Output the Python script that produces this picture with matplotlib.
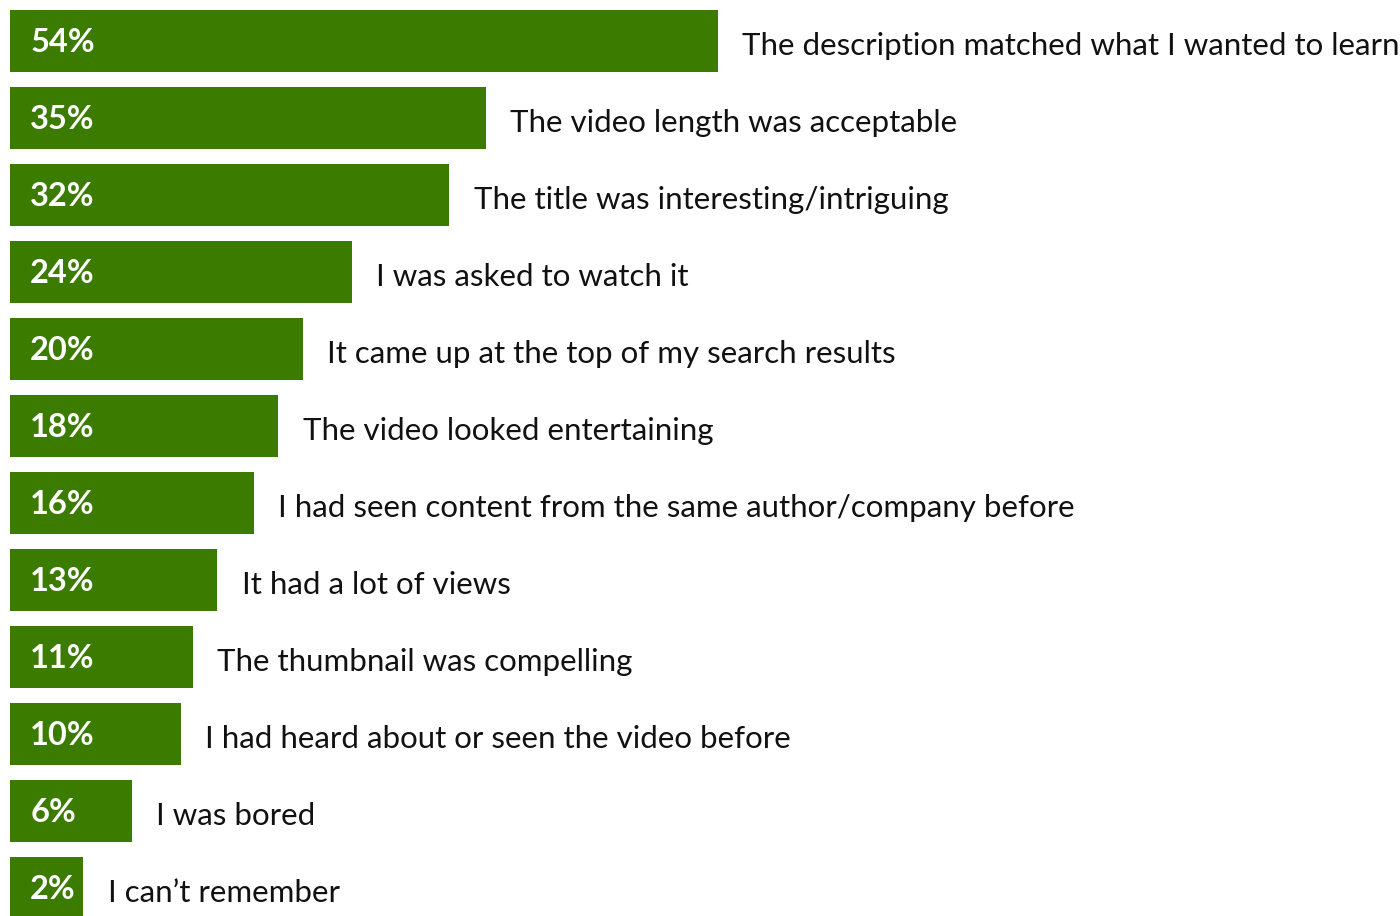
import numpy as np
import matplotlib.pyplot as plt

reasons = [
    'The description matched what I wanted to learn',
    'The video length was acceptable',
    'The title was interesting/intriguing',
    'I was asked to watch it',
    'It came up at the top of my search results',
    'The video looked entertaining',
    'I had seen content from the same author/company before',
    'It had a lot of views',
    'The thumbnail was compelling',
    'I had heard about or seen the video before',
    'I was bored',
    'I can\u2019t remember',
]
shares = [54, 35, 32, 24, 20, 18, 16, 13, 11, 10, 6, 2]

green = '#3b7b00'
base = 4.0  # bars start a little left of zero so small labels fit inside

fig = plt.figure(figsize=(14, 9.16), dpi=100)
ax = fig.add_axes([0, 0, 1, 1])

y = np.arange(len(shares))
vals = np.array(shares, dtype=float)
ax.barh(y, vals + base, left=-base, height=0.805, color=green)

for i, (v, lab) in enumerate(zip(shares, reasons)):
    ax.text(-base + 1.65, i + 0.02, f'{v}%', color='white', fontsize=23.5,
            fontfamily='Lato', fontweight='bold', va='center', ha='left')
    ax.text(v + 2.0, i + 0.06, lab, color='#111111', fontsize=22.5,
            fontfamily='Lato', va='center', ha='left')

# 1 unit = ~12.2 px, bars start at x=10 px
k = 12.2
x0 = -base - 10 / k
ax.set_xlim(x0, x0 + 1400 / k)
ax.set_ylim((916 - 41) / 77, -41 / 77)
ax.axis('off')

fig.savefig('out.png', dpi=100)
